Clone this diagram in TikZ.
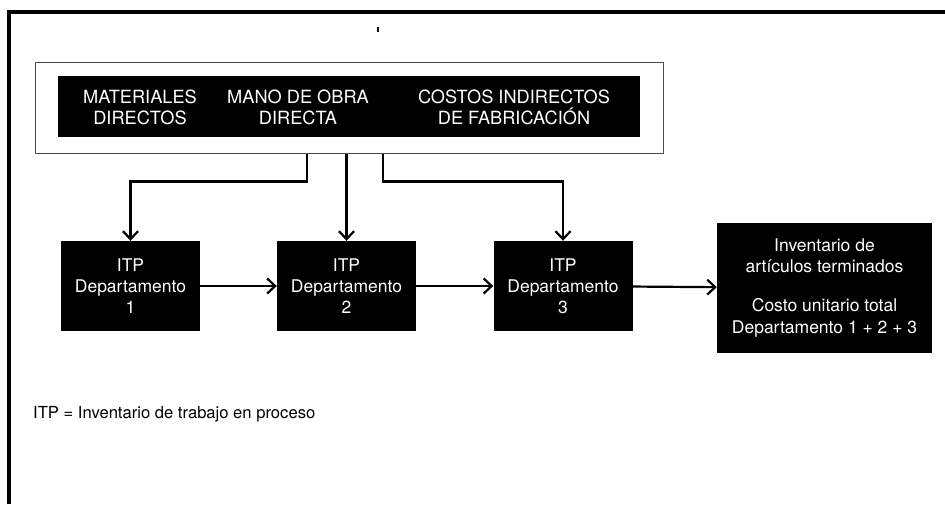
\documentclass[tikz,border=0pt]{standalone}
\usepackage{fontspec}
\setmainfont{TeX Gyre Heros}
\usetikzlibrary{arrows.meta,calc}
\begin{document}
\begin{tikzpicture}[x=1pt,y=-1pt,
  arr/.style={line width=2.2pt, -{Straight Barb[length=8pt,width=15pt,line width=2.2pt]}},
  dept/.style={fill=black, text=white, minimum width=139, minimum height=90, inner sep=0, align=center, font=\fontsize{17.5}{21}\selectfont},
  bartext/.style={text=white, align=center, font=\fontsize{18.2}{21}\selectfont, inner sep=0},
]
\fill[white] (0,0) rectangle (945,504);
\useasboundingbox (0,0) rectangle (945,504);
\draw[line width=4.5pt] (9,504) -- (9,12) -- (945,12);
\fill (377,27) rectangle (379,32);
\node[draw=black!70, line width=1.4pt, minimum width=628, minimum height=91, inner sep=0, anchor=north west] (src) at (35,62) {};
\node[fill=black, minimum width=582, minimum height=61, inner sep=0, anchor=north west] (bar) at (58,76) {};
\node[bartext] (mat) at (140,107) {MATERIALES\\DIRECTOS};
\node[bartext] (mo) at (298,107) {MANO DE OBRA\\DIRECTA};
\node[bartext] (cif) at (514,107) {COSTOS INDIRECTOS\\DE FABRICACIÓN};
\node[dept] (d1) at (130.5,286) {ITP\\Departamento\\1};
\node[dept] (d2) at (346.5,286) {ITP\\Departamento\\2};
\node[dept] (d3) at (563,286) {ITP\\Departamento\\3};
\node[fill=black, text=white, minimum width=215, minimum height=130, inner sep=0, align=center, font=\fontsize{17.5}{21.5}\selectfont] (fin) at (824.5,288) {Inventario de\\artículos terminados\\[17.5pt]Costo unitario total\\Departamento 1 + 2 + 3};
\node[anchor=west, inner sep=0, font=\fontsize{16.6}{19}\selectfont] (note) at (33,414) {ITP = Inventario de trabajo en proceso};
\coordinate (s1) at ($(src.south west)+(272,0)$);
\coordinate (s2) at (d2.north |- src.south);
\coordinate (s3) at ($(src.south west)+(348,0)$);
\draw[arr] (s1) -- ++(0,27) -| (d1.north);
\draw[arr] (s2) -- (d2.north);
\draw[arr] (s3) -- ++(0,27) -| (d3.north);
\draw[arr] (d1) -- (d2);
\draw[arr] (d2) -- (d3);
\draw[arr] (d3) -- (fin);
\end{tikzpicture}
\end{document}
